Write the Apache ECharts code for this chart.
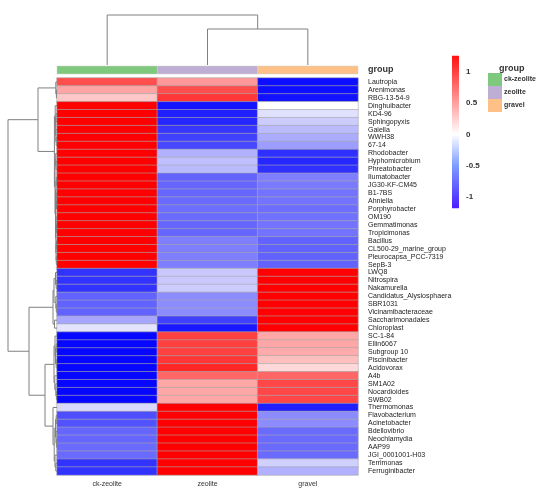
<!DOCTYPE html>
<html>
<head>
<meta charset="utf-8">
<script src="https://cdn.jsdelivr.net/npm/echarts@6/dist/echarts.min.js"></script>
<style>
  html, body { margin: 0; padding: 0; background: #fff; }
  #chart { width: 550px; height: 500px; }
</style>
</head>
<body>
<div id="chart"></div>
<script>
// 列（样品组）
const groups = ['ck-zeolite', 'zeolite', 'gravel'];
const groupColors = ['#7FC97F', '#BEAED4', '#FDC086'];

// 行（属）
const genera = [
  'Lautropia', 'Arenimonas', 'RBG-13-54-9', 'Dinghuibacter', 'KD4-96', 'Sphingopyxis',
  'Gaiella', 'WWH38', '67-14', 'Rhodobacter', 'Hyphomicrobium', 'Phreatobacter',
  'Ilumatobacter', 'JG30-KF-CM45', 'B1-7BS', 'Ahniella', 'Porphyrobacter', 'OM190',
  'Gemmatimonas', 'Tropicimonas', 'Bacillus', 'CL500-29_marine_group', 'Pleurocapsa_PCC-7319',
  'SepB-3', 'LWQ8', 'Nitrospira', 'Nakamurella', 'Candidatus_Alysiosphaera', 'SBR1031',
  'Vicinamibacteraceae', 'Saccharimonadales', 'Chloroplast', 'SC-1-84', 'Ellin6067',
  'Subgroup 10', 'Piscinibacter', 'Acidovorax', 'A4b', 'SM1A02', 'Nocardioides', 'SWB02',
  'Thermomonas', 'Flavobacterium', 'Acinetobacter', 'Bdellovibrio', 'Neochlamydia', 'AAP99',
  'JGI_0001001-H03', 'Terrimonas', 'Ferruginibacter'
];

// 每列的标准化值（按行顺序）
const ckZeolite = [
  0.80, 0.41, 0.25, 1.15, 1.15, 1.15, 1.15, 1.15, 1.15, 1.15, 1.15, 1.15,
  1.15, 1.15, 1.15, 1.15, 1.15, 1.15, 1.15, 1.15, 1.15, 1.15, 1.15, 1.15,
  -0.92, -0.92, -0.92, -0.71, -0.71, -0.71, -0.40, -0.12,
  -1.12, -1.12, -1.12, -1.12, -1.12, -1.12, -1.12, -1.12, -1.12,
  -0.17, -0.80, -0.78, -0.69, -0.69, -0.67, -0.67, -0.92, -0.92
];
const zeolite = [
  0.46, 0.80, 0.90, -1.06, -1.01, -0.98, -0.90, -0.86, -0.83, -0.35, -0.29, -0.31,
  -0.71, -0.69, -0.69, -0.67, -0.66, -0.67, -0.69, -0.69, -0.58, -0.58, -0.58, -0.58,
  -0.25, -0.25, -0.23, -0.52, -0.52, -0.52, -0.86, -1.04,
  0.86, 0.86, 0.86, 0.90, 0.98, 0.69, 0.40, 0.40, 0.40,
  1.15, 1.15, 1.15, 1.15, 1.15, 1.15, 1.15, 1.15, 1.15
];
const gravel = [
  -1.09, -1.09, -1.07, 0.00, -0.14, -0.23, -0.31, -0.38, -0.44, -0.94, -0.98, -0.94,
  -0.58, -0.60, -0.63, -0.63, -0.66, -0.64, -0.63, -0.63, -0.71, -0.71, -0.71, -0.71,
  1.15, 1.15, 1.15, 1.15, 1.15, 1.15, 1.15, 1.15,
  0.40, 0.40, 0.38, 0.29, 0.17, 0.69, 0.83, 0.83, 0.83,
  -1.01, -0.52, -0.52, -0.67, -0.67, -0.67, -0.67, -0.21, -0.35
];

// 聚类树：[高度, 左, 右]，叶子为行/列序号
const colTree = [5, 0, [3.6, 1, 2]];
const rowTree = [49,
  [19,
    [1.2, 0, [0.6, 1, 2]],
    [2.6,
      [1.8, 3, [1.4, [1.0, 4, 5], [1.2, 6, [0.8, 7, 8]]]],
      [2.0, [1.3, 9, [1.0, 10, 11]],
        [1.5, [1.1, [0.7, 12, 13], [0.8, 14, [0.5, 15, 16]]],
              [1.2, [0.9, 17, [0.6, 18, 19]], [1.0, [0.5, 20, 21], [0.7, 22, 23]]]]]]],
  [28,
    [4, [3.0, [1.5, 24, [0.8, 25, 26]], [1.2, 27, [0.7, 28, 29]]], [2.5, 30, 31]],
    [12,
      [3, [2, 32, [1.5, [0.8, 33, 34], [0.8, 35, 36]]], [2.2, 37, [1.2, 38, [0.6, 39, 40]]]],
      [4, 41, [2.8, [1.5, [0.8, 42, 43], [1.0, 44, [0.6, 45, 46]]], [2.0, 47, [1.2, 48, 49]]]]]]
];

// 色标刻度与范围
const legendTicks = [1, 0.5, 0, -0.5, -1];
const legendRange = [-1.18, 1.26];

// 把聚类树拆成线段 [pos1, h1, pos2, h2]
function treeSegments(node, segs) {
  if (typeof node === 'number') return { pos: node + 0.5, h: 0 };
  const a = treeSegments(node[1], segs);
  const b = treeSegments(node[2], segs);
  const h = node[0];
  segs.push([a.pos, a.h, a.pos, h]);
  segs.push([b.pos, b.h, b.pos, h]);
  segs.push([a.pos, h, b.pos, h]);
  return { pos: (a.pos + b.pos) / 2, h: h };
}
const colSegs = [];
treeSegments(colTree, colSegs);
const rowSegsRaw = [];
treeSegments(rowTree, rowSegsRaw);
// 左侧树：x 为高度，y 为行位置
const rowSegs = rowSegsRaw.map(s => [s[1], s[0], s[3], s[2]]);

const heatData = [];
[ckZeolite, zeolite, gravel].forEach((col, ci) => {
  col.forEach((v, ri) => heatData.push([ci, ri, v]));
});

function renderSeg(params, api) {
  const a = api.coord([api.value(0), api.value(1)]);
  const b = api.coord([api.value(2), api.value(3)]);
  return {
    type: 'line',
    shape: { x1: a[0], y1: a[1], x2: b[0], y2: b[1] },
    style: { stroke: '#808080', lineWidth: 1 }
  };
}

function renderAnno(params, api) {
  const c = api.coord([api.value(0), api.value(1)]);
  const s = api.size([1, 1]);
  return {
    type: 'rect',
    shape: { x: c[0] - s[0] / 2, y: c[1] - s[1] / 2, width: s[0], height: s[1] },
    style: { fill: api.visual('color'), stroke: '#d0d0d0', lineWidth: 0.5 }
  };
}

// 色标条
function renderBar(params, api) {
  const top = api.coord([0, api.value(1)]);
  const bot = api.coord([1, api.value(0)]);
  const lo = api.value(0), hi = api.value(1);
  const zero = hi / (hi - lo);
  const half = (hi + 0.5) / (hi - lo);
  return {
    type: 'rect',
    shape: { x: top[0], y: top[1], width: bot[0] - top[0], height: bot[1] - top[1] },
    style: {
      fill: new echarts.graphic.LinearGradient(0, 0, 0, 1, [
        { offset: 0, color: '#FF1010' },
        { offset: zero, color: '#FFFFFF' },
        { offset: half, color: '#7C9CFF' },
        { offset: 1, color: '#4A1EFF' }
      ])
    }
  };
}

const font = 'Liberation Sans, Arial, sans-serif';
const chart = echarts.init(document.getElementById('chart'));

const option = {
  backgroundColor: '#fff',
  animation: false,
  textStyle: { fontFamily: font },
  title: {
    text: 'group', left: 494, top: 59,
    textStyle: { fontSize: 9, fontWeight: 'bold', color: '#333', fontFamily: font }
  },
  legend: {
    data: groups, orient: 'vertical', left: 488, top: 73, padding: 0,
    itemWidth: 14, itemHeight: 13, itemGap: 0, icon: 'rect', selectedMode: false,
    textStyle: { fontSize: 7, fontWeight: 'bold', color: '#333', padding: [0, 0, 0, -3] }
  },
  grid: [
    { left: 57, top: 78, width: 301, height: 397 },
    { left: 57, top: 66, width: 301, height: 8 },
    { left: 57, top: 15, width: 301, height: 50 },
    { left: 8, top: 78, width: 49, height: 397 },
    { left: 452, top: 40.75, width: 7, height: 187.5 }
  ],
  xAxis: [
    { gridIndex: 0, type: 'category', data: groups,
      axisLine: { show: false }, axisTick: { show: false }, splitLine: { show: false },
      axisLabel: { fontSize: 7, color: '#333', margin: 6 } },
    { gridIndex: 1, type: 'category', data: groups, show: false },
    { gridIndex: 2, type: 'value', min: 0, max: 3, show: false },
    { gridIndex: 3, type: 'value', min: 0, max: 49, inverse: true, show: false },
    { gridIndex: 4, type: 'value', min: 0, max: 1, show: false }
  ],
  yAxis: [
    { gridIndex: 0, type: 'category', data: genera, inverse: true, position: 'right',
      axisLine: { show: false }, axisTick: { show: false }, splitLine: { show: false },
      axisLabel: { fontSize: 7, color: '#222', margin: 10, interval: 0 } },
    { gridIndex: 1, type: 'category', data: ['group'], position: 'right',
      axisLine: { show: false }, axisTick: { show: false },
      axisLabel: { fontSize: 9, fontWeight: 'bold', color: '#333', margin: 10 } },
    { gridIndex: 2, type: 'value', min: 0, max: 5, show: false },
    { gridIndex: 3, type: 'value', min: 0, max: 50, inverse: true, show: false },
    { gridIndex: 4, type: 'value', min: -1.5, max: 1.5, interval: 0.5, position: 'right',
      axisLine: { show: false }, axisTick: { show: false }, splitLine: { show: false },
      axisLabel: {
        fontSize: 8, fontWeight: 'bold', color: '#333', margin: 7,
        formatter: v => (legendTicks.indexOf(v) >= 0 ? String(v) : '')
      } }
  ],
  visualMap: {
    type: 'continuous', seriesIndex: 0, min: -1.15, max: 1.15, show: false,
    inRange: { color: ['#0000FF', '#FFFFFF', '#FF0000'] }
  },
  series: [
    {
      type: 'heatmap', xAxisIndex: 0, yAxisIndex: 0, data: heatData,
      itemStyle: { borderColor: '#a8a8a8', borderWidth: 0.6 },
      emphasis: { disabled: true }
    },
    ...groups.map((g, i) => ({
      name: g, type: 'custom', xAxisIndex: 1, yAxisIndex: 1,
      itemStyle: { color: groupColors[i] },
      renderItem: renderAnno, data: [[i, 0]]
    })),
    { type: 'custom', xAxisIndex: 2, yAxisIndex: 2, renderItem: renderSeg, data: colSegs, silent: true },
    { type: 'custom', xAxisIndex: 3, yAxisIndex: 3, renderItem: renderSeg, data: rowSegs, silent: true },
    { type: 'custom', xAxisIndex: 4, yAxisIndex: 4, renderItem: renderBar, data: [legendRange], silent: true }
  ]
};

chart.setOption(option);
</script>
</body>
</html>
